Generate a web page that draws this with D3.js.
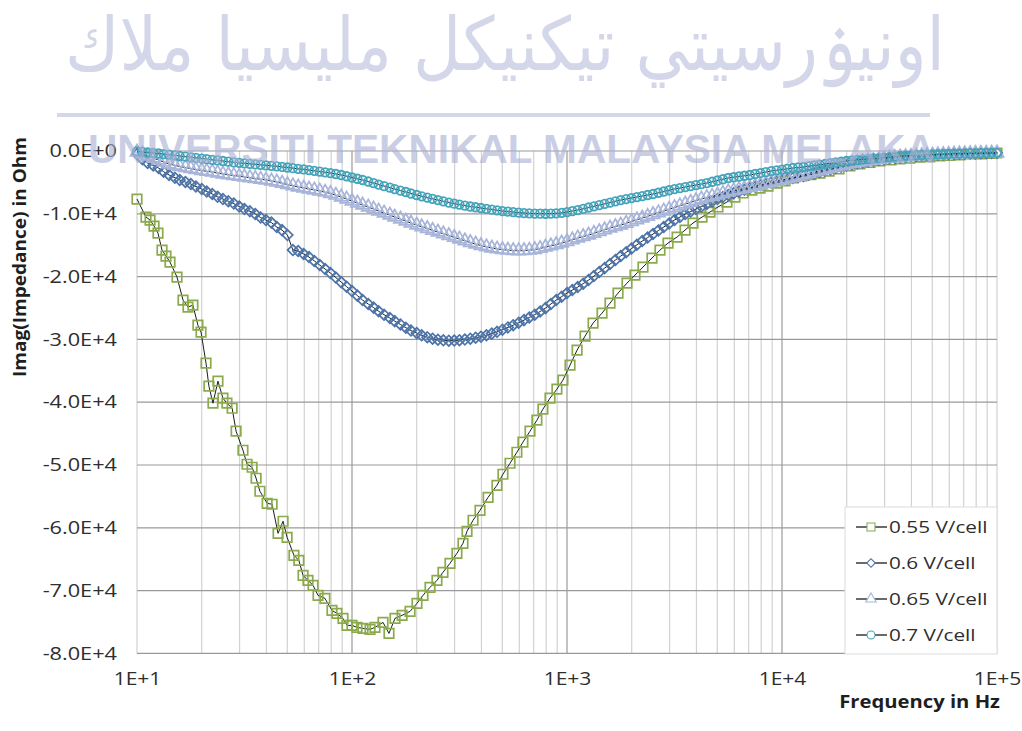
<!DOCTYPE html>
<html>
<head>
<meta charset="utf-8">
<script src="https://cdn.jsdelivr.net/npm/d3@7"></script>
<style>
  body { margin: 0; background: #fff; }
  svg { display: block; }
</style>
</head>
<body>
<svg id="chart" width="1022" height="731"></svg>
<script>
// ---- data -------------------------------------------------------------
const seriesNames = ["0.55 V/cell", "0.6 V/cell", "0.65 V/cell", "0.7 V/cell"];

// sweep frequencies (Hz) for the 0.6 / 0.65 / 0.7 V/cell runs
const freqHz = [
  10, 10.6, 11.2, 11.9, 12.6, 13.3, 14.1, 15.0, 15.8, 16.8,
  17.8, 18.8, 20.0, 21.1, 22.4, 23.7, 25.1, 26.6, 28.2, 29.9,
  31.6, 33.5, 35.5, 37.6, 39.8, 42.2, 44.7, 47.3, 50.1, 53.1,
  56.2, 59.6, 63.1, 66.8, 70.8, 75.0, 79.4, 84.1, 89.1, 94.4,
  100, 106, 112, 119, 126, 133, 141, 150, 158, 168,
  178, 188, 200, 211, 224, 237, 251, 266, 282, 299,
  316, 335, 355, 376, 398, 422, 447, 473, 501, 531,
  562, 596, 631, 668, 708, 750, 794, 841, 891, 944,
  1000, 1059, 1122, 1189, 1259, 1334, 1413, 1496, 1585, 1679,
  1778, 1884, 1995, 2113, 2239, 2371, 2512, 2661, 2818, 2985,
  3162, 3350, 3548, 3758, 3981, 4217, 4467, 4732, 5012, 5309,
  5623, 5957, 6310, 6683, 7079, 7499, 7943, 8414, 8913, 9441,
  10000, 10590, 11220, 11890, 12590, 13340, 14130, 14960, 15850, 16790,
  17780, 18840, 19950, 21130, 22390, 23710, 25120, 26610, 28180, 29850,
  31620, 33500, 35480, 37580, 39810, 42170, 44670, 47320, 50120, 53090,
  56230, 59570, 63100, 66830, 70790, 74990, 79430, 84140, 89130, 94410,
  100000
];

// 0.55 V/cell run has its own frequency list
const freq055 = [
  10, 11.01, 11.5, 12.0, 12.52, 13.07, 13.64, 14.24, 15.35, 16.37,
  17.26, 18.2, 19.2, 19.85, 20.94, 21.6, 22.56, 23.8, 25.1, 26.2,
  27.7, 28.9, 31.1, 32.5, 34.3, 35.8, 37.3, 40.3, 42.5, 45.3,
  47.8, 49.9, 53.7, 56.6, 59.2, 62.4, 65.9, 69.5, 74.8, 80.7,
  85.1, 90.8, 94.8, 100, 105.5, 112.5, 121.3, 127.9, 139.4, 148.6,
  158.5, 171, 186.2, 200.6, 213.9, 230.6, 248.4, 264.9, 285.6, 307.7,
  328.2, 342.7, 365.6, 393.9, 429.5, 472.3, 503.6, 543.3, 584.8, 623.7,
  672.9, 724.4, 772.6, 833.5, 897.5, 957.3, 1033, 1114, 1213, 1322,
  1455, 1585, 1727, 1901, 2071, 2256, 2484, 2707, 2951, 3251,
  3540, 3855, 4246, 4624, 5036, 5546, 6039, 6592, 7245, 7907,
  8610, 9484, 10330, 11250, 12390, 13640, 15030, 16560, 18430, 20700,
  23070, 25660, 28560, 32140, 35400, 39360, 43850, 48750, 54330, 60390,
  67300, 74820, 83370, 92690, 100000
];

// imaginary part of impedance (Ohm)
const imag055 = [
  -7650, -10520, -11000, -11950, -13070, -15780, -16730, -17690, -20080, -23740,
  -24860, -24540, -27730, -28840, -33780, -37450, -40160, -36650, -39360, -40160,
  -40960, -44620, -47650, -49880, -50360, -52110, -54180, -56100, -56250, -60880,
  -58960, -61510, -64380, -65180, -67570, -68370, -69160, -70760, -71230, -73150,
  -73620, -74420, -75540, -75540, -75850, -76010, -76170, -75850, -75060, -76810,
  -74420, -73940, -73310, -72030, -70760, -69480, -68370, -67090, -65660, -64060,
  -62470, -60560, -58800, -57210, -55140, -53230, -51470, -49720, -47970, -46370,
  -44620, -42870, -41110, -39360, -37930, -36490, -34100, -31710, -29480, -27410,
  -25820, -24220, -22630, -21040, -19760, -18490, -17050, -15780, -14660, -13700,
  -12590, -11470, -10520, -9720, -8920, -8130, -7330, -6690, -6220, -5900,
  -5580, -5100, -4780, -4300, -3980, -3750, -3510, -3190, -2870, -2390,
  -2070, -1830, -1590, -1430, -1270, -1120, -960, -880, -800, -720,
  -640, -480, -450, -400, -320
];

const imag060 = [
  -480, -1300, -1910, -2300, -2710, -3300, -3820, -4250, -4620, -4940,
  -5260, -5650, -6060, -6450, -6850, -7300, -7650, -8000, -8370, -8850,
  -9240, -9600, -10040, -10600, -11000, -11400, -12110, -12600, -13390, -15780,
  -15940, -16400, -16890, -17500, -18170, -18800, -19440, -20160, -20880, -21600,
  -22310, -23030, -23740, -24370, -24940, -25520, -26060, -26590, -27090, -27620,
  -28130, -28600, -29000, -29350, -29640, -29880, -30040, -30140, -30200, -30180,
  -30120, -30020, -29880, -29730, -29560, -29340, -29080, -28790, -28450, -28100,
  -27730, -27340, -26930, -26510, -26060, -25560, -25020, -24380, -23740, -23190,
  -22630, -22150, -21670, -21120, -20560, -19920, -19280, -18650, -18010, -17370,
  -16730, -16140, -15540, -14940, -14340, -13790, -13230, -12670, -12110, -11550,
  -11000, -10520, -10040, -9640, -9240, -8850, -8450, -8050, -7650, -7330,
  -7010, -6730, -6450, -6170, -5900, -5660, -5420, -5220, -5020, -4820,
  -4620, -4460, -4300, -4140, -3980, -3790, -3590, -3350, -3110, -2910,
  -2710, -2510, -2310, -2150, -1990, -1830, -1670, -1550, -1430, -1310,
  -1200, -1100, -1000, -920, -840, -780, -720, -680, -640, -600,
  -560, -520, -480, -455, -430, -405, -380, -365, -350, -335,
  -320
];

const imag065 = [
  -160, -480, -800, -1120, -1430, -1750, -2070, -2290, -2470, -2630,
  -2790, -2950, -3110, -3230, -3350, -3510, -3670, -3790, -3900, -4020,
  -4140, -4260, -4380, -4500, -4620, -4780, -4940, -5140, -5340, -5540,
  -5740, -5900, -6060, -6210, -6370, -6560, -6770, -7040, -7330, -7650,
  -7970, -8290, -8610, -8920, -9240, -9560, -9880, -10200, -10520, -10840,
  -11160, -11480, -11790, -12070, -12350, -12630, -12910, -13190, -13470, -13750,
  -14020, -14300, -14580, -14830, -15060, -15270, -15460, -15600, -15700, -15790,
  -15860, -15880, -15860, -15800, -15700, -15520, -15300, -15110, -14900, -14670,
  -14420, -14140, -13860, -13630, -13390, -13110, -12830, -12550, -12270, -12030,
  -11790, -11510, -11230, -10950, -10680, -10400, -10120, -9840, -9560, -9280,
  -9000, -8720, -8450, -8170, -7890, -7650, -7410, -7210, -7010, -6770,
  -6530, -6330, -6140, -5980, -5820, -5620, -5420, -5220, -5020, -4820,
  -4620, -4420, -4220, -4020, -3820, -3590, -3350, -3150, -2950, -2750,
  -2550, -2350, -2150, -1990, -1830, -1710, -1590, -1470, -1350, -1240,
  -1120, -1040, -960, -900, -830, -780, -720, -680, -640, -600,
  -560, -520, -480, -455, -430, -405, -380, -365, -350, -335,
  -320
];

const imag070 = [
  -50, -150, -240, -320, -400, -500, -590, -700, -800, -900,
  -1000, -1100, -1200, -1300, -1400, -1500, -1590, -1700, -1800, -1880,
  -1960, -2040, -2120, -2200, -2280, -2360, -2440, -2530, -2630, -2730,
  -2840, -2930, -3030, -3150, -3270, -3390, -3510, -3660, -3820, -4020,
  -4220, -4420, -4620, -4860, -5100, -5340, -5580, -5820, -6060, -6300,
  -6530, -6770, -7010, -7210, -7410, -7610, -7810, -8010, -8210, -8380,
  -8530, -8690, -8840, -8960, -9080, -9200, -9320, -9440, -9560, -9640,
  -9720, -9800, -9880, -9920, -9960, -9980, -9990, -9970, -9930, -9840,
  -9720, -9570, -9400, -9200, -9000, -8810, -8610, -8410, -8210, -8010,
  -7810, -7650, -7490, -7330, -7170, -7010, -6850, -6650, -6450, -6250,
  -6060, -5900, -5740, -5580, -5420, -5260, -5100, -4900, -4700, -4500,
  -4300, -4180, -4060, -3940, -3820, -3660, -3510, -3350, -3190, -3070,
  -2950, -2830, -2710, -2630, -2550, -2430, -2310, -2190, -2070, -1950,
  -1830, -1710, -1590, -1510, -1430, -1350, -1270, -1190, -1120, -1040,
  -960, -880, -800, -760, -720, -680, -640, -600, -560, -520,
  -480, -455, -430, -405, -380, -365, -350, -335, -320, -305,
  -290
];

// axis ticks
const yTickValues = [0, -10000, -20000, -30000, -40000, -50000, -60000, -70000, -80000];
const yTickLabels = ["0.0E+0", "-1.0E+4", "-2.0E+4", "-3.0E+4", "-4.0E+4", "-5.0E+4", "-6.0E+4", "-7.0E+4", "-8.0E+4"];
const xTickValues = [10, 100, 1000, 10000, 100000];
const xTickLabels = ["1E+1", "1E+2", "1E+3", "1E+4", "1E+5"];

// ---- layout -----------------------------------------------------------
const svg = d3.select("#chart");
const plot = { left: 137, right: 997, top: 151, bottom: 653.4 };
const FONT = "'Open Sans', 'Liberation Sans', sans-serif";
const TEXT = "#2e2e2e";

const x = d3.scaleLog().domain([10, 100000]).range([plot.left, plot.right]);
const y = d3.scaleLinear().domain([-80000, 0]).range([plot.bottom, plot.top]);

// widen text glyphs horizontally by a factor
function widen(sel, k) {
  sel.each(function () {
    const w = this.getComputedTextLength();
    d3.select(this).attr("textLength", w * k).attr("lengthAdjust", "spacingAndGlyphs");
  });
}

// ---- grid -------------------------------------------------------------
const grid = svg.append("g");
const minorX = x.ticks().filter(d => !xTickValues.includes(d));
grid.selectAll("line.minor").data(minorX).join("line")
  .attr("x1", d => x(d)).attr("x2", d => x(d))
  .attr("y1", plot.top).attr("y2", plot.bottom)
  .attr("stroke", "#d2d2d2").attr("stroke-width", 1.2);
grid.selectAll("line.majx").data(xTickValues).join("line")
  .attr("x1", d => x(d)).attr("x2", d => x(d))
  .attr("y1", plot.top).attr("y2", plot.bottom)
  .attr("stroke", d => (d === 10 || d === 100000) ? "#d2d2d2" : "#9a9a9a")
  .attr("stroke-width", 1.2);
grid.selectAll("line.majy").data(yTickValues).join("line")
  .attr("x1", plot.left).attr("x2", plot.right)
  .attr("y1", d => y(d)).attr("y2", d => y(d))
  .attr("stroke", "#9a9a9a").attr("stroke-width", 1.2);

// ---- axes -------------------------------------------------------------
const yAxis = svg.append("g")
  .attr("transform", `translate(${plot.left},0)`)
  .call(d3.axisLeft(y).tickValues(yTickValues)
    .tickFormat((d, i) => yTickLabels[i]).tickSize(0).tickPadding(20));
yAxis.select(".domain").remove();
yAxis.selectAll("text").attr("font-family", FONT).attr("font-size", 17.5).attr("fill", TEXT);
widen(yAxis.selectAll("text"), 1.24);

const xAxis = svg.append("g")
  .attr("transform", `translate(0,${plot.bottom})`)
  .call(d3.axisBottom(x).tickValues(xTickValues)
    .tickFormat((d, i) => xTickLabels[i]).tickSize(0).tickPadding(19));
xAxis.select(".domain").remove();
xAxis.selectAll("text").attr("font-family", FONT).attr("font-size", 17.5).attr("fill", TEXT);
widen(xAxis.selectAll("text"), 1.2);

const xTitle = svg.append("text")
  .attr("x", 1000).attr("y", 708).attr("text-anchor", "end")
  .attr("font-family", FONT).attr("font-weight", 700).attr("font-size", 17)
  .attr("fill", "#1e1e1e").text("Frequency in Hz");
widen(xTitle, 1.19);

svg.append("text")
  .attr("transform", "translate(26,257) rotate(-90)")
  .attr("text-anchor", "middle")
  .attr("font-family", FONT).attr("font-weight", 700).attr("font-size", 18)
  .attr("fill", "#1e1e1e")
  .attr("textLength", 240).attr("lengthAdjust", "spacingAndGlyphs")
  .text("Imag(Impedance) in Ohm");

// ---- series -----------------------------------------------------------
const series = [
  { name: seriesNames[0], f: freq055, v: imag055, color: "#8aaa4c", shape: "square", size: 9.5, sw: 1.7 },
  { name: seriesNames[1], f: freqHz, v: imag060, color: "#4d74a8", shape: "diamond", size: 7.5, sw: 1.7 },
  { name: seriesNames[2], f: freqHz, v: imag065, color: "#a7b5da", shape: "triangle", size: 10, sw: 1.7 },
  { name: seriesNames[3], f: freqHz, v: imag070, color: "#44a4bc", shape: "circle", size: 8.5, sw: 1.8 }
];

function markerPath(shape, s) {
  if (shape === "square" || shape === "diamond") return d3.symbol().type(d3.symbolSquare).size(s * s)();
  if (shape === "triangle") return d3.symbol().type(d3.symbolTriangle).size(s * s * 0.75)();
  return d3.symbol().type(d3.symbolCircle).size(Math.PI * (s / 2) * (s / 2))();
}

const line = d3.line().x(d => x(d[0])).y(d => y(d[1]));

const seriesG = svg.append("g");
series.forEach(s => {
  const pts = s.f.map((f, i) => [f, s.v[i]]);
  const g = seriesG.append("g");
  g.append("path").datum(pts).attr("d", line)
    .attr("fill", "none").attr("stroke", "#1c1c1c").attr("stroke-width", 1);
  g.selectAll("path.m").data(pts).join("path")
    .attr("class", "m")
    .attr("d", markerPath(s.shape, s.size))
    .attr("transform", d => `translate(${x(d[0])},${y(d[1])})` + (s.shape === "diamond" ? " rotate(45)" : ""))
    .attr("fill", "none").attr("stroke", s.color).attr("stroke-width", s.sw);
});

// ---- legend -----------------------------------------------------------
const legend = svg.append("g");
legend.append("rect")
  .attr("x", 845).attr("y", 507).attr("width", 152).attr("height", 147)
  .attr("fill", "#fff").attr("stroke", "#dcdcdc").attr("stroke-width", 1);
const rowY = [527, 563, 599, 635];
series.forEach((s, i) => {
  const g = legend.append("g").attr("transform", `translate(0,${rowY[i]})`);
  g.append("line").attr("x1", 856).attr("x2", 887).attr("y1", 0).attr("y2", 0)
    .attr("stroke", "#2a2a2a").attr("stroke-width", 1.4);
  g.append("path").attr("d", markerPath(s.shape, s.shape === "diamond" ? 6 : 8))
    .attr("transform", "translate(871,0)" + (s.shape === "diamond" ? " rotate(45)" : ""))
    .attr("fill", "#fff").attr("stroke", s.color).attr("stroke-width", 1.1);
  const t = g.append("text").attr("x", 889).attr("y", 0).attr("dy", "0.35em")
    .attr("font-family", FONT).attr("font-size", 17).attr("fill", TEXT).text(s.name);
  widen(t, 1.22);
});

// ---- university watermark --------------------------------------------
const wm = svg.append("g").attr("opacity", 0.62);
wm.append("text")
  .attr("x", 505).attr("y", 70).attr("text-anchor", "middle")
  .attr("font-family", "'DejaVu Sans', sans-serif").attr("font-size", 74)
  .attr("fill", "#b9bfdc")
  .attr("textLength", 880).attr("lengthAdjust", "spacingAndGlyphs")
  .text("اونيۏرسيتي تيكنيكل مليسيا ملاك");
wm.append("line").attr("x1", 57).attr("x2", 930).attr("y1", 115).attr("y2", 115)
  .attr("stroke", "#b9bfdc").attr("stroke-width", 4);
wm.append("text")
  .attr("x", 88).attr("y", 163)
  .attr("font-family", "'Liberation Sans', Arial, sans-serif").attr("font-weight", 700)
  .attr("font-size", 41).attr("fill", "#aab1d6")
  .attr("textLength", 847).attr("lengthAdjust", "spacingAndGlyphs")
  .text("UNIVERSITI TEKNIKAL MALAYSIA MELAKA");
</script>
</body>
</html>
